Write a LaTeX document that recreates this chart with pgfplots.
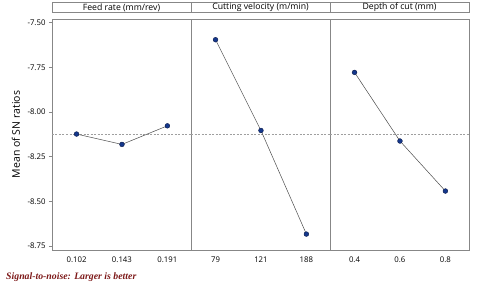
\documentclass[border=0pt]{standalone}
\usepackage{pgfplots}
\pgfplotsset{compat=1.18}
\usepackage{fontspec}
\setmainfont{Open Sans}
\newfontfamily\capfont{Liberation Serif}
\definecolor{frame}{RGB}{135,135,135}
\definecolor{mk}{RGB}{20,55,140}
\definecolor{mkd}{RGB}{10,25,70}
\definecolor{cap}{RGB}{125,25,25}
\pgfplotsset{panel/.style={
  scale only axis, width=139pt, height=231pt,
  ymin=-8.772, ymax=-7.479, xmin=-0.54, xmax=2.52,
  xtick={0,1,2},
  axis line style={frame, line width=0.6pt},
  major x tick style={draw=none},
  tick align=outside, ytick pos=left,
  major tick length=3pt,
  y tick style={frame, line width=0.6pt},
  tick label style={font=\fontsize{7.8}{9}\selectfont},
  /pgf/number format/assume math mode=true,
  yticklabel style={/pgf/number format/.cd, fixed, fixed zerofill, precision=2},
  title style={at={(0.5,1)}, anchor=south, draw=frame, line width=0.6pt,
    minimum width=139pt, minimum height=10pt, inner sep=0pt,
    font=\fontsize{8.7}{9}\selectfont},
  clip=false,
}}
\begin{document}
\begin{tikzpicture}
\path[use as bounding box] (0,0) rectangle (480pt,286pt);
\begin{axis}[panel, at={(52pt,36pt)}, anchor=south west,
  title={Feed rate (mm/rev)},
  xticklabels={0.102,0.143,0.191},
  ytick={-8.75,-8.5,-8.25,-8,-7.75,-7.5},
  ylabel={Mean of SN ratios},
  ylabel style={at={(axis description cs:-0.26,0.5)}, anchor=center, font=\fontsize{10.5}{11}\selectfont}]
\addplot[gray!75, dash pattern=on 2pt off 1.5pt, line width=0.6pt] coordinates {(-0.54,-8.127) (2.52,-8.127)};
\addplot[black!70, line width=0.5pt, mark=*, mark size=2.4pt, mark options={fill=mk, draw=mkd, line width=0.4pt}]
  coordinates {(0,-8.123) (1,-8.181) (2,-8.077)};
\end{axis}
\begin{axis}[panel, at={(191pt,36pt)}, anchor=south west,
  title={Cutting velocity (m/min)},
  xticklabels={79,121,188},
  ytick=\empty]
\addplot[gray!75, dash pattern=on 2pt off 1.5pt, line width=0.6pt] coordinates {(-0.54,-8.127) (2.52,-8.127)};
\addplot[black!70, line width=0.5pt, mark=*, mark size=2.4pt, mark options={fill=mk, draw=mkd, line width=0.4pt}]
  coordinates {(0,-7.595) (1,-8.103) (2,-8.683)};
\end{axis}
\begin{axis}[panel, at={(330pt,36pt)}, anchor=south west,
  title={Depth of cut (mm)},
  xticklabels={0.4,0.6,0.8},
  ytick=\empty]
\addplot[gray!75, dash pattern=on 2pt off 1.5pt, line width=0.6pt] coordinates {(-0.54,-8.127) (2.52,-8.127)};
\addplot[black!70, line width=0.5pt, mark=*, mark size=2.4pt, mark options={fill=mk, draw=mkd, line width=0.4pt}]
  coordinates {(0,-7.778) (1,-8.162) (2,-8.442)};
\end{axis}
\node[anchor=west, text=cap, font=\capfont\bfseries\itshape\fontsize{9.8}{10}\selectfont, inner sep=0pt] at (6pt,9pt) {Signal-to-noise: Larger is better};
\end{tikzpicture}
\end{document}
